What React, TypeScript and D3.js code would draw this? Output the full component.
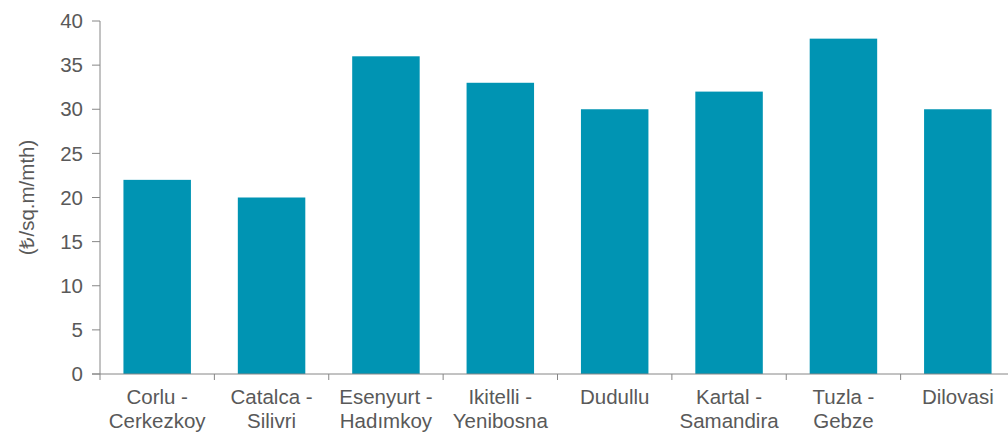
import React, { useEffect, useRef } from "react";
import * as d3 from "d3";

const categories: string[][] = [
  ["Corlu -", "Cerkezkoy"],
  ["Catalca -", "Silivri"],
  ["Esenyurt -", "Hadımkoy"],
  ["Ikitelli -", "Yenibosna"],
  ["Dudullu"],
  ["Kartal -", "Samandira"],
  ["Tuzla -", "Gebze"],
  ["Dilovasi"],
];
const values: number[] = [22, 20, 36, 33, 30, 32, 38, 30];
const yTicks: number[] = [0, 5, 10, 15, 20, 25, 30, 35, 40];
const yLabel = "(₺/sq.m/mth)";

export default function App() {
  const ref = useRef<SVGSVGElement>(null);
  useEffect(() => {
    const svg = d3.select(ref.current);
    svg.selectAll("*").remove();
    const left = 100, right = 1015, top = 21, bottom = 374;
    const keys = categories.map((_, i) => String(i));
    const x = d3.scaleBand().domain(keys).range([left, right]).paddingInner(0.41).paddingOuter(0.205);
    const y = d3.scaleLinear().domain([0, 40]).range([bottom, top]);
    const font = "'Liberation Sans', Arial, sans-serif";
    const textColor = "#595959";
    const axisColor = "#868686";
    const fs = 20.5;

    svg.append("g").selectAll("rect").data(values).join("rect")
      .attr("x", (_, i) => x(String(i))!)
      .attr("y", (d) => y(d))
      .attr("width", x.bandwidth())
      .attr("height", (d) => y(0) - y(d))
      .attr("fill", "#0094b3");

    // y axis
    svg.append("line").attr("x1", left).attr("x2", left).attr("y1", top).attr("y2", bottom)
      .attr("stroke", axisColor).attr("stroke-width", 1);
    yTicks.forEach((t) => {
      svg.append("line").attr("x1", left - 8).attr("x2", left).attr("y1", y(t)).attr("y2", y(t))
        .attr("stroke", axisColor);
      svg.append("text").attr("x", left - 17).attr("y", y(t)).attr("dy", "0.35em")
        .attr("text-anchor", "end").attr("font-family", font).attr("font-size", fs)
        .attr("fill", textColor).text(String(t));
    });

    // x axis
    svg.append("line").attr("x1", left - 8).attr("x2", 1008).attr("y1", bottom).attr("y2", bottom)
      .attr("stroke", axisColor);
    const step = x.step();
    for (let i = 0; i <= categories.length; i++) {
      const tx = left + i * step;
      svg.append("line").attr("x1", tx).attr("x2", tx).attr("y1", bottom).attr("y2", bottom + 6)
        .attr("stroke", axisColor);
    }
    categories.forEach((lines, i) => {
      const cx = x(String(i))! + x.bandwidth() / 2;
      const t = svg.append("text").attr("text-anchor", "middle").attr("font-family", font)
        .attr("font-size", fs).attr("fill", textColor);
      lines.forEach((l, j) => {
        t.append("tspan").attr("x", cx).attr("y", 404 + j * 24).text(l);
      });
    });

    svg.append("text").attr("transform", `translate(34,${(top + bottom) / 2}) rotate(-90)`)
      .attr("text-anchor", "middle").attr("font-family", font).attr("font-size", fs)
      .attr("fill", textColor).text(yLabel);
  }, []);
  return (
    <svg ref={ref} width={1008} height={433}
      style={{ position: "absolute", left: 0, top: 0, background: "#fff" }} />
  );
}
